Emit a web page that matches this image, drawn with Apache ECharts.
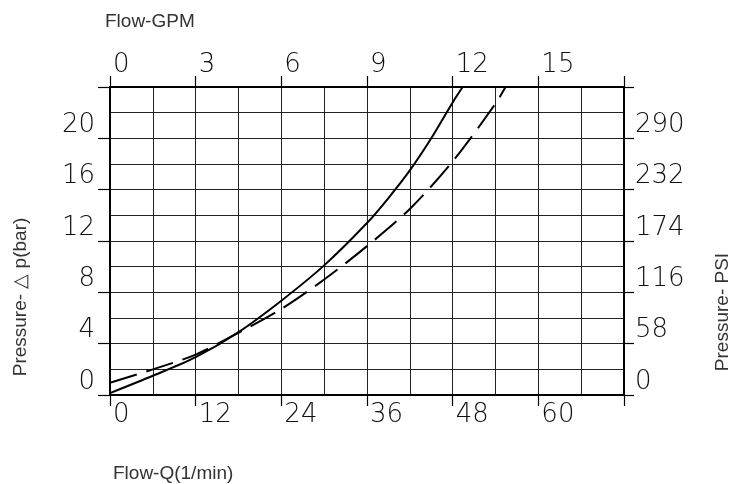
<!DOCTYPE html>
<html>
<head>
<meta charset="utf-8">
<script src="https://cdn.jsdelivr.net/npm/echarts@6/dist/echarts.min.js"></script>
<style>
  html, body { margin: 0; padding: 0; background: #fff; }
  #chart { width: 733px; height: 484px; }
</style>
</head>
<body>
<div id="chart"></div>
<script>
// flow in l/min, pressure in bar
const solidFlow = [0, 6, 12, 18, 24, 30, 36, 39, 42, 45, 48, 49.4]
const solidBar = [0.15, 1.5, 2.95, 4.9, 7.35, 10.1, 13.4, 15.35, 17.5, 20.0, 22.8, 24]
const dashedFlow = [0, 6, 12, 18, 24, 30, 36, 42, 48, 54, 55.4]
const dashedBar = [0.95, 2.0, 3.15, 4.85, 6.7, 9.0, 11.6, 14.5, 18.2, 22.7, 24]

// axis ranges / ticks
const qMax = 72, qStep = 12
const gpmMax = 18, gpmStep = 3
const barMax = 24, barStep = 4
const psiMax = 348, psiStep = 58

const chart = echarts.init(document.getElementById('chart'))

const tickFont = { fontFamily: 'DejaVu Sans', fontWeight: 200, fontSize: 26, color: '#111' }
const nameFont = 'normal 19px "Liberation Sans"'

const hideMax = max => v => (v >= max ? '' : String(v))

const grid = { left: 110, top: 87, width: 514, height: 308, show: true, borderColor: '#000', borderWidth: 2 }

const option = {
  animation: false,
  grid,
  xAxis: [
    {
      type: 'value', position: 'bottom', min: 0, max: qMax, interval: qStep,
      axisLine: { show: true, onZero: false, lineStyle: { color: '#000', width: 2 } },
      axisTick: { show: true, inside: false, length: 11, lineStyle: { color: '#000', width: 1.2 } },
      axisLabel: { ...tickFont, align: 'left', margin: 7, padding: [0, 0, 0, 3], formatter: hideMax(qMax) },
      splitLine: { show: true, lineStyle: { color: '#222', width: 1 } },
      minorTick: { show: false, splitNumber: 2 },
      minorSplitLine: { show: true, lineStyle: { color: '#222', width: 1 } }
    },
    {
      type: 'value', position: 'top', min: 0, max: gpmMax, interval: gpmStep,
      axisLine: { show: true, onZero: false, lineStyle: { color: '#000', width: 2 } },
      axisTick: { show: true, inside: false, length: 11, lineStyle: { color: '#000', width: 1.2 } },
      axisLabel: { ...tickFont, align: 'left', margin: 9, padding: [0, 0, 0, 3], formatter: hideMax(gpmMax) },
      splitLine: { show: false }
    }
  ],
  yAxis: [
    {
      type: 'value', position: 'left', min: 0, max: barMax, interval: barStep,
      axisLine: { show: true, onZero: false, lineStyle: { color: '#000', width: 2 } },
      axisTick: { show: true, inside: false, length: 12, lineStyle: { color: '#000', width: 1.2 } },
      axisLabel: { ...tickFont, align: 'right', verticalAlign: 'bottom', margin: 15, formatter: hideMax(barMax) },
      splitLine: { show: true, lineStyle: { color: '#222', width: 1 } },
      minorTick: { show: false, splitNumber: 2 },
      minorSplitLine: { show: true, lineStyle: { color: '#222', width: 1 } }
    },
    {
      type: 'value', position: 'right', min: 0, max: psiMax, interval: psiStep,
      axisLine: { show: true, onZero: false, lineStyle: { color: '#000', width: 2 } },
      axisTick: { show: true, inside: false, length: 10, lineStyle: { color: '#000', width: 1.2 } },
      axisLabel: { ...tickFont, align: 'left', verticalAlign: 'bottom', margin: 11, formatter: hideMax(psiMax) },
      splitLine: { show: false }
    }
  ],
  series: [
    {
      type: 'line', xAxisIndex: 0, yAxisIndex: 0, smooth: 0.3, showSymbol: false,
      lineStyle: { color: '#000', width: 2 },
      data: solidFlow.map((q, i) => [q, solidBar[i]])
    },
    {
      type: 'line', xAxisIndex: 0, yAxisIndex: 0, smooth: 0.3, showSymbol: false,
      lineStyle: { color: '#000', width: 2, type: [28, 10] },
      data: dashedFlow.map((q, i) => [q, dashedBar[i]])
    }
  ],
  graphic: [
    { type: 'text', x: 105, y: 22, style: { text: 'Flow-GPM', font: nameFont, fill: '#333', textAlign: 'left', textVerticalAlign: 'middle' } },
    { type: 'text', x: 113, y: 474, style: { text: 'Flow-Q(1/min)', font: nameFont, fill: '#333', textAlign: 'left', textVerticalAlign: 'middle' } },
    { type: 'text', x: 21, y: 297, rotation: Math.PI / 2, style: { text: 'Pressure- \u25B3 p(bar)', font: nameFont, fill: '#333', textAlign: 'center', textVerticalAlign: 'middle' } },
    { type: 'text', x: 723, y: 312, rotation: Math.PI / 2, style: { text: 'Pressure- PSI', font: nameFont, fill: '#333', textAlign: 'center', textVerticalAlign: 'middle' } }
  ]
}

chart.setOption(option)
</script>
</body>
</html>
